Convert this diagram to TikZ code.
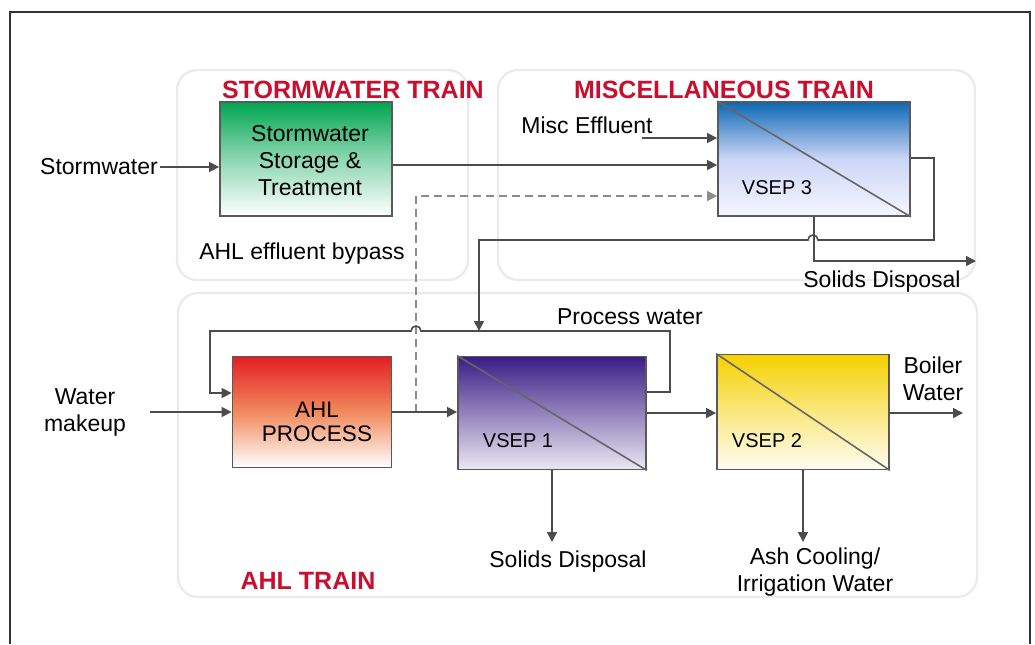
\documentclass[tikz,border=0pt]{standalone}
\usepackage{fontspec}
\setmainfont{Liberation Sans}
\usetikzlibrary{arrows.meta}

\definecolor{trainred}{HTML}{C8102E}
\definecolor{stormtop}{HTML}{00A651}
\definecolor{misctop}{HTML}{0C68B4}
\definecolor{ahltop}{HTML}{E31E24}
\definecolor{ahlmid}{HTML}{F08A5D}
\definecolor{vonetop}{HTML}{3A1D86}
\definecolor{vtwotop}{HTML}{F5D000}

\tikzset{
  unit/.style={draw=black!65, line width=0.9pt, align=center, inner sep=0pt,
    font=\fontsize{11.5}{13.5}\selectfont},
  flow/.style={draw=black!70, line width=0.8pt, -{Triangle[length=5pt,width=5pt]}},
  bypass/.style={flow, draw=black!45, dash pattern=on 4pt off 2.5pt},
  group/.style={draw=black!8, line width=1.2pt, rounded corners=10pt},
  title/.style={text=trainred, font=\bfseries\fontsize{12.5}{15}\selectfont},
  lbl/.style={font=\fontsize{11.5}{13.5}\selectfont, align=center, inner sep=1pt},
  vseplbl/.style={font=\fontsize{10}{12}\selectfont, inner sep=0pt}
}

\begin{document}
\begin{tikzpicture}[x=0.5pt, y=-0.5pt]
  \useasboundingbox (0,0) rectangle (1035,644);

  % Outer frame
  \draw[line width=1pt, black!80] (10,644) -- (10,12) -- (1030,12) -- (1030,644);

  % Train groups
  \draw[group] (177,70) rectangle (468,280);
  \draw[group] (498,70) rectangle (975,280);
  \draw[group] (178,293) rectangle (977,597);

  \node[title] (swtitle) at (353,90) {STORMWATER TRAIN};
  \node[title] (misctitle) at (724,90) {MISCELLANEOUS TRAIN};
  \node[title] (ahltitle) at (308,581) {AHL TRAIN};

  % Process units
  \node[unit, minimum width=86pt, minimum height=57pt,
        top color=stormtop, bottom color=white, middle color=stormtop!45]
        (storm) at (306,159) {};
  \node[unit, minimum width=96pt, minimum height=57pt,
        top color=misctop, bottom color=blue!4, middle color=misctop!50!blue!20]
        (vsep3) at (814,159) {};
  \node[unit, minimum width=79.5pt, minimum height=55.5pt,
        top color=ahltop, bottom color=white, middle color=ahlmid]
        (ahl) at (312,412) {};
  \node[unit, minimum width=94pt, minimum height=56.5pt,
        top color=vonetop, bottom color=vonetop!10, middle color=vonetop!55]
        (vsep1) at (552,413) {};
  \node[unit, minimum width=86pt, minimum height=57.5pt,
        top color=vtwotop, bottom color=vtwotop!5, middle color=vtwotop!50]
        (vsep2) at (803,412) {};

  % Membrane diagonals
  \draw[black!60, line width=0.8pt] (vsep3.north west) -- (vsep3.south east);
  \draw[black!60, line width=0.8pt] (vsep1.north west) -- (vsep1.south east);
  \draw[black!60, line width=0.8pt] (vsep2.north west) -- (vsep2.south east);

  % Unit texts
  \node[lbl] (stormlbl) at (310,161) {Stormwater\\Storage \&\\Treatment};
  \node[lbl, font=\fontsize{11.25}{12}\selectfont] (ahllbl) at (317,422) {AHL\\PROCESS};
  \node[vseplbl] (v3lbl) at (777,188) {VSEP 3};
  \node[vseplbl] (v1lbl) at (518,441) {VSEP 1};
  \node[vseplbl] (v2lbl) at (767,441) {VSEP 2};

  % Stream labels
  \node[lbl] (stormin) at (99,167) {Stormwater};
  \node[lbl] (miscin) at (587,125) {Misc Effluent};
  \node[lbl] (bypasslbl) at (302,254) {AHL effluent bypass};
  \node[lbl] (pwlbl) at (630,317) {Process water};
  \node[lbl] (makeup) at (85,412) {Water\\makeup};
  \node[lbl] (boiler) at (933,379) {Boiler\\Water};
  \node[lbl] (sd3) at (882,282) {Solids Disposal};
  \node[lbl] (sd1) at (568,562) {Solids Disposal};
  \node[lbl] (ash) at (815,572) {Ash Cooling/\\Irrigation Water};

  % Free ends
  \coordinate (miscstart) at (642,138);
  \coordinate (makeupend) at (150,412);
  \coordinate (boilerend) at (963,413);
  \coordinate (bp) at (416,412);

  % Stormwater train
  \draw[flow] (stormin.east) -- (storm.west |- stormin.east);
  \draw[flow] (storm.east |- 0,165) -- (vsep3.west |- 0,165);

  % Miscellaneous train
  \draw[flow] (miscstart) -- (vsep3.west |- miscstart);
  \draw[bypass] (bp) -- (416,196) -- (vsep3.west |- 416,196);
  \draw[flow] (vsep3.east |- 0,158) -- (934,158) -- (934,240) -- (818,240)
    arc[start angle=0, end angle=180, radius=2.5pt] -- (479,240) -- (479,331);
  \draw[flow] (vsep3.south) -- (vsep3.south |- 0,261) -- (976,261);

  % AHL train
  \draw[flow] (makeupend) -- (ahl.west |- makeupend);
  \draw[flow] (ahl.east |- bp) -- (vsep1.west |- bp);
  \draw[flow] (vsep1.east |- 0,392) -- (670,392) -- (670,331) -- (421,331)
    arc[start angle=0, end angle=180, radius=2.5pt] -- (210,331) -- (210,393)
    -- (ahl.west |- 0,393);
  \draw[flow] (vsep1.east |- 0,413) -- (vsep2.west |- 0,413);
  \draw[flow] (vsep2.east |- boilerend) -- (boilerend);
  \draw[flow] (vsep1.south) -- (vsep1.south |- 0,542);
  \draw[flow] (vsep2.south) -- (vsep2.south |- 0,542);
\end{tikzpicture}
\end{document}
